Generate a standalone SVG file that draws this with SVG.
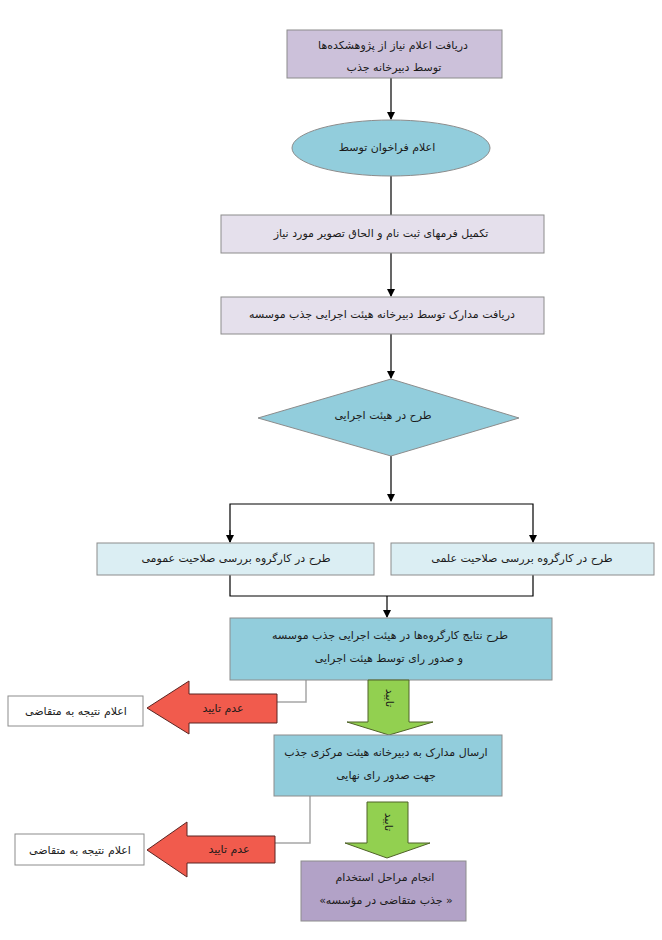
<svg xmlns="http://www.w3.org/2000/svg" width="662" height="940" viewBox="0 0 662 940">
<style>
text{font-family:"DejaVu Sans","Noto Sans",sans-serif;font-size:11px;fill:#1a1a1a;direction:rtl;text-anchor:middle;dominant-baseline:middle}
.box{stroke:#8c8c8c;stroke-width:1}
.conn{stroke:#000;stroke-width:1.2;fill:none}
.gconn{stroke:#a6a6a6;stroke-width:1.5;fill:none}
.red{fill:#f15b4d;stroke:#5a2522;stroke-width:1}
.green{fill:#92d050;stroke:#4f6228;stroke-width:1}
</style>
<defs>
<marker id="ah" markerWidth="8" markerHeight="8" refX="7" refY="4" orient="auto" markerUnits="userSpaceOnUse">
<path d="M0,0 L8,4 L0,8 z" fill="#000"/>
</marker>
</defs>
<rect width="662" height="940" fill="#fff"/>
<g id="connectors">
<line class="conn" x1="391" y1="78" x2="391" y2="119" marker-end="url(#ah)"/>
<line class="conn" x1="391" y1="176" x2="391" y2="215"/>
<line class="conn" x1="391" y1="253" x2="391" y2="296" marker-end="url(#ah)"/>
<line class="conn" x1="391" y1="334" x2="391" y2="378" marker-end="url(#ah)"/>
<line class="conn" x1="391" y1="456" x2="391" y2="501" marker-end="url(#ah)"/>
<polyline class="conn" points="230,542 230,504 533,504 533,542" marker-end="url(#ah)"/>
<line class="conn" x1="230" y1="530" x2="230" y2="542" marker-end="url(#ah)"/>
<polyline class="conn" points="230,575 230,596 533,596 533,575"/>
<line class="conn" x1="387" y1="596" x2="387" y2="617" marker-end="url(#ah)"/>
<polyline class="gconn" points="306,680 306,702 277,702"/>
<polyline class="gconn" points="310,796 310,843 275,843"/>
</g>
<g id="n1">
<rect class="box" x="287" y="30" width="215" height="48" fill="#ccc1da"/>
<text x="393" y="46">دریافت اعلام نیاز از پژوهشکده‌ها</text>
<text x="394" y="68">توسط دبیرخانه جذب</text>
</g>
<g id="n2">
<ellipse class="box" cx="391" cy="148" rx="99" ry="28" fill="#92cddc"/>
<text x="387" y="148">اعلام فراخوان توسط</text>
</g>
<g id="n3">
<rect class="box" x="221" y="215" width="323" height="38" fill="#e5e0ec"/>
<text x="381" y="234">تکمیل فرمهای ثبت نام و الحاق تصویر مورد نیاز</text>
</g>
<g id="n4">
<rect class="box" x="221" y="297" width="323" height="37" fill="#e5e0ec"/>
<text x="382" y="315">دریافت مدارک توسط دبیرخانه هیئت اجرایی جذب موسسه</text>
</g>
<g id="n5">
<polygon class="box" points="391,379 519,418 391,456 258,418" fill="#92cddc"/>
<text x="383" y="416">طرح در هیئت اجرایی</text>
</g>
<g id="n6">
<rect class="box" x="97" y="543" width="277" height="32" fill="#dbeef3"/>
<text x="236" y="559">طرح در کارگروه بررسی صلاحیت عمومی</text>
</g>
<g id="n7">
<rect class="box" x="391" y="543" width="263" height="32" fill="#dbeef3"/>
<text x="522" y="559">طرح در کارگروه بررسی صلاحیت علمی</text>
</g>
<g id="n8">
<rect class="box" x="230" y="618" width="322" height="62" fill="#92cddc"/>
<text x="390" y="636">طرح نتایج کارگروه‌ها در هیئت اجرایی جذب موسسه</text>
<text x="389" y="659">و صدور رای توسط هیئت اجرایی</text>
</g>
<g id="rej1">
<polygon class="red" points="147,708 189,681 189,694 277,694 277,723 189,723 189,734"/>
<text x="223" y="709">عدم تایید</text>
</g>
<g id="res1">
<rect class="box" x="8" y="696" width="135" height="30" fill="#fff"/>
<text x="76" y="712">اعلام نتیجه به متقاضی</text>
</g>
<g id="ok1">
<polygon class="green" points="368,680 409,680 409,722 433,722 389,735 347,722 368,722"/>
<text x="389" y="698" transform="rotate(90 389 698)">تایید</text>
</g>
<g id="n9">
<rect class="box" x="274" y="735" width="228" height="61" fill="#92cddc"/>
<text x="386" y="753">ارسال مدارک به دبیرخانه هیئت مرکزی جذب</text>
<text x="386" y="776">جهت صدور رای نهایی</text>
</g>
<g id="rej2">
<polygon class="red" points="147,850 187,822 187,836 275,836 275,863 187,863 187,877"/>
<text x="229" y="850">عدم تایید</text>
</g>
<g id="res2">
<rect class="box" x="15" y="834" width="129" height="31" fill="#fff"/>
<text x="80" y="851">اعلام نتیجه به متقاضی</text>
</g>
<g id="ok2">
<polygon class="green" points="367,802 408,802 408,843 430,843 387,858 345,843 367,843"/>
<text x="388" y="822" transform="rotate(90 388 822)">تایید</text>
</g>
<g id="n10">
<rect class="box" x="301" y="861" width="165" height="60" fill="#b2a2c7"/>
<text x="385" y="878">انجام مراحل استخدام</text>
<text x="386" y="901">« جذب متقاضی در مؤسسه»</text>
</g>
</svg>
